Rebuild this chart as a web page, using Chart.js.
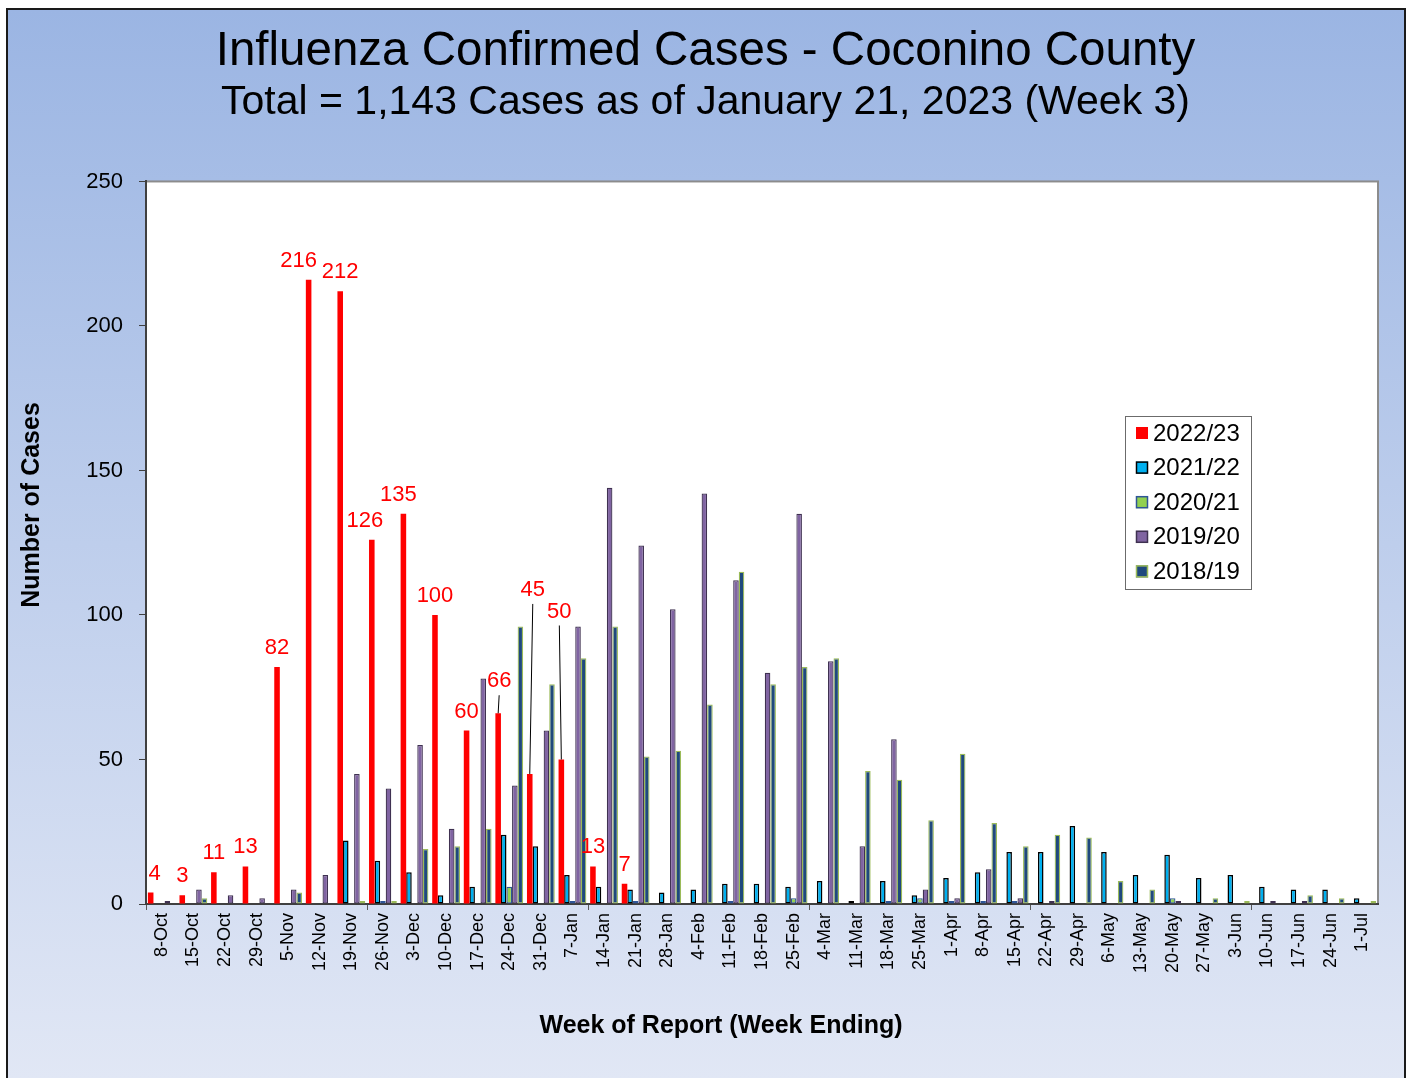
<!DOCTYPE html>
<html>
<head>
<meta charset="utf-8">
<title>Influenza Confirmed Cases - Coconino County</title>
<script src="https://cdn.jsdelivr.net/npm/chart.js@4.4.1/dist/chart.umd.min.js"></script>
<style>
  html, body { margin: 0; padding: 0; background: #fff; overflow: hidden; }
  canvas { display: block; }
</style>
</head>
<body>
<canvas id="fluChart" width="1411" height="1078"></canvas>
<script>
const weeks = ['8-Oct', '15-Oct', '22-Oct', '29-Oct', '5-Nov', '12-Nov', '19-Nov', '26-Nov', '3-Dec', '10-Dec',
    '17-Dec', '24-Dec', '31-Dec', '7-Jan', '14-Jan', '21-Jan', '28-Jan', '4-Feb', '11-Feb', '18-Feb',
    '25-Feb', '4-Mar', '11-Mar', '18-Mar', '25-Mar', '1-Apr', '8-Apr', '15-Apr', '22-Apr', '29-Apr',
    '6-May', '13-May', '20-May', '27-May', '3-Jun', '10-Jun', '17-Jun', '24-Jun', '1-Jul'];

const seasons = ['2022/23', '2021/22', '2020/21', '2019/20', '2018/19'];

const cases2223 = [4, 3, 11, 13, 82, 216, 212, 126, 135, 100,
    60, 66, 45, 50, 13, 7, null, null, null, null,
    null, null, null, null, null, null, null, null, null, null,
    null, null, null, null, null, null, null, null, null];
const cases2122 = [null, null, null, null, null, null, 22, 15, 11, 3,
    6, 24, 20, 10, 6, 5, 4, 5, 7, 7,
    6, 8, 1, 8, 3, 9, 11, 18, 18, 27,
    18, 10, 17, 9, 10, 6, 5, 5, 2];
const cases2021 = [null, null, null, null, null, null, null, 1, null, null,
    null, 6, null, 1, null, 1, null, null, 1, null,
    2, null, null, 1, 2, 1, 1, 1, null, null,
    null, null, 2, null, null, null, null, null, null];
const cases1920 = [1, 5, 3, 2, 5, 10, 45, 40, 55, 26,
    78, 41, 60, 96, 144, 124, 102, 142, 112, 80,
    135, 84, 20, 57, 5, 2, 12, 2, 1, null,
    null, null, 1, null, null, 1, 1, null, null];
const cases1819 = [null, 2, null, null, 4, null, 1, 1, 19, 20,
    26, 96, 76, 85, 96, 51, 53, 69, 115, 76,
    82, 85, 46, 43, 29, 52, 28, 20, 24, 23,
    8, 5, null, 2, 1, null, 3, 2, 1];

const yTicks = [0, 50, 100, 150, 200, 250];

const FONT = "'Liberation Sans', Arial, sans-serif";

// label tweaks for the 2022/23 values, [dx, dy] from the default spot
const labelNudge = { 0: [4, 0], 5: [-10, 0], 7: [-7, 0], 8: [-5, 0], 11: [1, -13], 12: [3, -165], 13: [-2, -129] };
const leaderLines = [11, 12, 13];

const backdrop = {
    id: 'backdrop',
    beforeDraw(chart) {
        const ctx = chart.ctx;
        const a = chart.chartArea;
        ctx.save();
        ctx.fillStyle = '#ffffff';
        ctx.fillRect(0, 0, chart.width, chart.height);
        const g = ctx.createLinearGradient(0, 10, 0, chart.height);
        g.addColorStop(0, '#9bb5e3');
        g.addColorStop(1, '#e1e7f5');
        ctx.fillStyle = g;
        ctx.fillRect(8, 10, 1396, chart.height);
        ctx.strokeStyle = '#1a1a1a';
        ctx.lineWidth = 2;
        ctx.strokeRect(7, 9, 1398, chart.height + 10);

        ctx.fillStyle = '#ffffff';
        ctx.fillRect(a.left, a.top, a.right - a.left, a.bottom - a.top);
        ctx.strokeStyle = '#8c8c8c';
        ctx.lineWidth = 2;
        ctx.strokeRect(a.left, a.top, a.right - a.left, a.bottom - a.top);
        ctx.restore();
    },
    afterDraw(chart) {
        const ctx = chart.ctx;
        ctx.save();
        ctx.fillStyle = '#000';
        ctx.font = 'bold 25px ' + FONT;
        ctx.textAlign = 'center';
        ctx.textBaseline = 'middle';
        ctx.fillText('Week of Report (Week Ending)', 721, 1026);
        ctx.translate(32, 505);
        ctx.rotate(-Math.PI / 2);
        ctx.fillText('Number of Cases', 0, 0);
        ctx.restore();
    }
};

const valueLabels = {
    id: 'valueLabels',
    afterDatasetsDraw(chart) {
        const ctx = chart.ctx;
        const meta = chart.getDatasetMeta(0);
        ctx.save();
        ctx.font = '22px ' + FONT;
        ctx.fillStyle = '#ff0000';
        ctx.textAlign = 'center';
        ctx.textBaseline = 'middle';
        meta.data.forEach((bar, i) => {
            const v = cases2223[i];
            if (v === null) return;
            const nudge = labelNudge[i] || [0, 0];
            const lx = bar.x + nudge[0];
            const ly = bar.y - 19 + nudge[1];
            if (leaderLines.includes(i)) {
                ctx.strokeStyle = '#000';
                ctx.lineWidth = 1;
                ctx.beginPath();
                ctx.moveTo(bar.x, bar.y);
                ctx.lineTo(lx, ly + 14);
                ctx.stroke();
            }
            ctx.fillText(String(v), lx, ly);
        });
        ctx.restore();
    }
};

const boxLegend = {
    id: 'boxLegend',
    afterDraw(chart) {
        const ctx = chart.ctx;
        ctx.save();
        ctx.fillStyle = '#ffffff';
        ctx.fillRect(1125, 416, 126, 173);
        ctx.strokeStyle = '#6b6b6b';
        ctx.lineWidth = 1;
        ctx.strokeRect(1125.5, 416.5, 126, 173);
        ctx.font = '24px ' + FONT;
        ctx.textAlign = 'left';
        ctx.textBaseline = 'middle';
        chart.data.datasets.forEach((ds, i) => {
            const cy = 433 + i * 34.6;
            ctx.fillStyle = ds.backgroundColor;
            ctx.fillRect(1136, cy - 6, 12, 12);
            if (ds.borderWidth) {
                ctx.strokeStyle = ds.borderColor;
                ctx.lineWidth = 1.5;
                ctx.strokeRect(1136.5, cy - 5.5, 11, 11);
            }
            ctx.fillStyle = '#000';
            ctx.fillText(ds.label, 1153, cy + 1);
        });
        ctx.restore();
    }
};

function makeSet(label, data, fill, edge, width) {
    return {
        label: label,
        data: data,
        backgroundColor: fill,
        borderColor: edge,
        borderWidth: width,
        borderSkipped: false,
        categoryPercentage: 0.88,
        barPercentage: 1.0
    };
}

new Chart(document.getElementById('fluChart'), {
    type: 'bar',
    data: {
        labels: weeks,
        datasets: [
            makeSet(seasons[0], cases2223, '#ff0000', '#ff0000', 0),
            makeSet(seasons[1], cases2122, '#00b0f0', '#000000', 1.5),
            makeSet(seasons[2], cases2021, '#92d050', '#2f5597', 1.25),
            makeSet(seasons[3], cases1920, '#8064a2', '#3f3151', 1.25),
            makeSet(seasons[4], cases1819, '#1f497d', '#9bbb59', 1.25)
        ]
    },
    options: {
        responsive: false,
        animation: false,
        devicePixelRatio: 1,
        layout: { padding: { left: 33, right: 33, top: 0, bottom: 0 } },
        plugins: {
            legend: { display: false },
            tooltip: { enabled: false },
            title: {
                display: true,
                text: 'Influenza Confirmed Cases - Coconino County',
                color: '#000',
                font: { family: FONT, size: 47.5, weight: 'normal', lineHeight: 1.1 },
                padding: { top: 26, bottom: 0 }
            },
            subtitle: {
                display: true,
                text: 'Total = 1,143 Cases as of January 21, 2023 (Week 3)',
                color: '#000',
                font: { family: FONT, size: 41, weight: 'normal', lineHeight: 1.2 },
                padding: { top: 0, bottom: 54 }
            }
        },
        scales: {
            x: {
                offset: true,
                grid: {
                    offset: true,
                    drawOnChartArea: false,
                    tickLength: 6,
                    color: c => (c.index % 7 === 0 ? '#595959' : 'rgba(0,0,0,0)')
                },
                border: { color: '#404040', width: 2 },
                ticks: {
                    autoSkip: false,
                    minRotation: 90,
                    maxRotation: 90,
                    padding: 3,
                    color: '#000',
                    font: { family: FONT, size: 18 }
                },
                afterFit: s => { s.height = 174; }
            },
            y: {
                min: 0,
                max: 250,
                afterBuildTicks: s => { s.ticks = yTicks.map(v => ({ value: v })); },
                grid: { drawOnChartArea: false, tickLength: 7, color: '#404040' },
                border: { color: '#404040', width: 2 },
                ticks: {
                    padding: 16,
                    color: '#000',
                    font: { family: FONT, size: 22 }
                },
                afterFit: s => { s.width = 113; }
            }
        }
    },
    plugins: [backdrop, valueLabels, boxLegend]
});
</script>
</body>
</html>
